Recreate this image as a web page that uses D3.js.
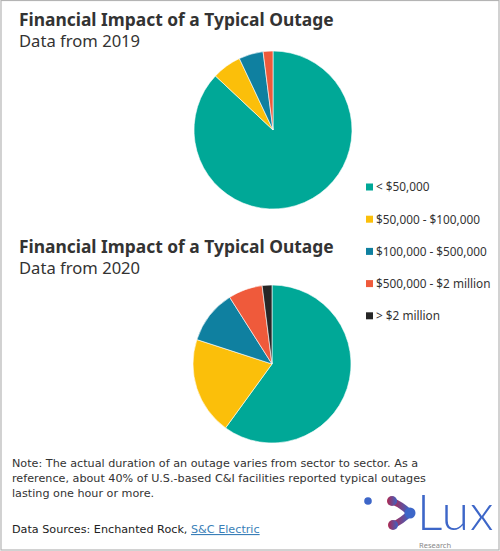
<!DOCTYPE html>
<html>
<head>
<meta charset="utf-8">
<script src="https://cdn.jsdelivr.net/npm/d3@7"></script>
<style>
  html, body { margin: 0; padding: 0; background: #fff; }
  svg { display: block; font-family: "Noto Sans", "DejaVu Sans", sans-serif; }
</style>
</head>
<body>
<div id="chart"></div>
<script>
const categories = ['< $50,000', '$50,000 - $100,000', '$100,000 - $500,000', '$500,000 - $2 million', '> $2 million'];
const colors = ['#00a897', '#fbbf0a', '#0f80a0', '#ef5a3b', '#262626'];
const values2019 = [87, 6, 5, 2, 0];
const values2020 = [60, 20, 11, 7, 2];
const titles = ['Financial Impact of a Typical Outage', 'Financial Impact of a Typical Outage'];
const subtitles = ['Data from 2019', 'Data from 2020'];
const noteLines = [
  'Note: The actual duration of an outage varies from sector to sector. As a',
  'reference, about 40% of U.S.-based C&I facilities reported typical outages',
  'lasting one hour or more.'
];

const width = 500, height = 551;
const svg = d3.select('#chart').append('svg')
  .attr('width', width)
  .attr('height', height);

// frame
svg.append('rect')
  .attr('x', 1).attr('y', 0.5)
  .attr('width', width - 2).attr('height', height - 1.5)
  .attr('fill', '#fff')
  .attr('stroke', '#b4b4b4')
  .attr('stroke-width', 1.2);

const color = d3.scaleOrdinal().domain(categories).range(colors);
const pie = d3.pie().sort(null).value(d => d.v);
const arc = d3.arc().innerRadius(0).outerRadius(79);

const panels = [
  { values: values2019, cx: 273, cy: 130, ty: 26 },
  { values: values2020, cx: 272, cy: 364, ty: 253 }
];

panels.forEach((p, i) => {
  svg.append('text')
    .attr('x', 19).attr('y', p.ty)
    .attr('font-size', 17.4)
    .attr('font-weight', 700)
    .attr('fill', '#333')
    .text(titles[i]);
  svg.append('text')
    .attr('x', 19).attr('y', p.ty + 21)
    .attr('font-size', 16.6)
    .attr('fill', '#333')
    .text(subtitles[i]);

  const data = categories.map((c, j) => ({ c, v: p.values[j] }));
  svg.append('g')
    .attr('transform', `translate(${p.cx},${p.cy})`)
    .selectAll('path')
    .data(pie(data).filter(d => d.data.v > 0))
    .join('path')
    .attr('d', arc)
    .attr('fill', d => color(d.data.c))
    .attr('stroke', '#fff')
    .attr('stroke-width', 0.6);
});

// legend
const legend = svg.append('g').attr('transform', 'translate(366,187)');
const row = legend.selectAll('g')
  .data(categories)
  .join('g')
  .attr('transform', (d, i) => `translate(0,${i * 32.2})`);
row.append('rect')
  .attr('x', 0).attr('y', -3.5)
  .attr('width', 7).attr('height', 7)
  .attr('fill', d => color(d));
row.append('text')
  .attr('x', 10).attr('y', 4.3)
  .attr('font-size', 11.8)
  .attr('fill', '#333')
  .text(d => d);

// note
svg.append('g').selectAll('text')
  .data(noteLines)
  .join('text')
  .attr('x', 12)
  .attr('y', (d, i) => 467 + i * 15)
  .attr('font-family', '"DejaVu Sans", sans-serif')
  .attr('font-size', 11.2)
  .attr('fill', '#333')
  .text(d => d);

const src = svg.append('text')
  .attr('x', 12).attr('y', 533)
  .attr('font-family', '"DejaVu Sans", sans-serif')
  .attr('font-size', 11.2)
  .attr('fill', '#222');
src.append('tspan').text('Data Sources: Enchanted Rock, ');
src.append('tspan')
  .attr('fill', '#3a7fb8')
  .attr('text-decoration', 'underline')
  .text('S&C Electric');

// Lux logo
const defs = svg.append('defs');
const grad = defs.append('linearGradient')
  .attr('id', 'luxGrad')
  .attr('x1', '0%').attr('y1', '0%').attr('x2', '100%').attr('y2', '0%');
grad.append('stop').attr('offset', '0%').attr('stop-color', '#b0284f');
grad.append('stop').attr('offset', '100%').attr('stop-color', '#3b63c4');

const logo = svg.append('g');
logo.append('circle').attr('cx', 368).attr('cy', 501).attr('r', 3.8).attr('fill', '#3d66c8');
logo.append('path')
  .attr('d', 'M392,501 Q402,505 410,513 Q402,521 393,525')
  .attr('fill', 'none')
  .attr('stroke', 'url(#luxGrad)')
  .attr('stroke-width', 6.5)
  .attr('stroke-linecap', 'round');
logo.append('circle').attr('cx', 392).attr('cy', 501).attr('r', 5).attr('fill', 'url(#luxGrad)');
logo.append('circle').attr('cx', 393).attr('cy', 525).attr('r', 5).attr('fill', 'url(#luxGrad)');
logo.append('circle').attr('cx', 410).attr('cy', 513).attr('r', 5.5).attr('fill', '#3d66c8');
logo.append('text')
  .attr('x', 417).attr('y', 530)
  .attr('font-family', 'Lato, "Open Sans", sans-serif')
  .attr('font-weight', 300)
  .attr('font-size', 50)
  .attr('letter-spacing', 1)
  .attr('fill', '#3d66c8')
  .text('Lux');
logo.append('text')
  .attr('x', 419).attr('y', 548)
  .attr('font-size', 7.5)
  .attr('fill', '#888')
  .text('Research');
</script>
</body>
</html>
